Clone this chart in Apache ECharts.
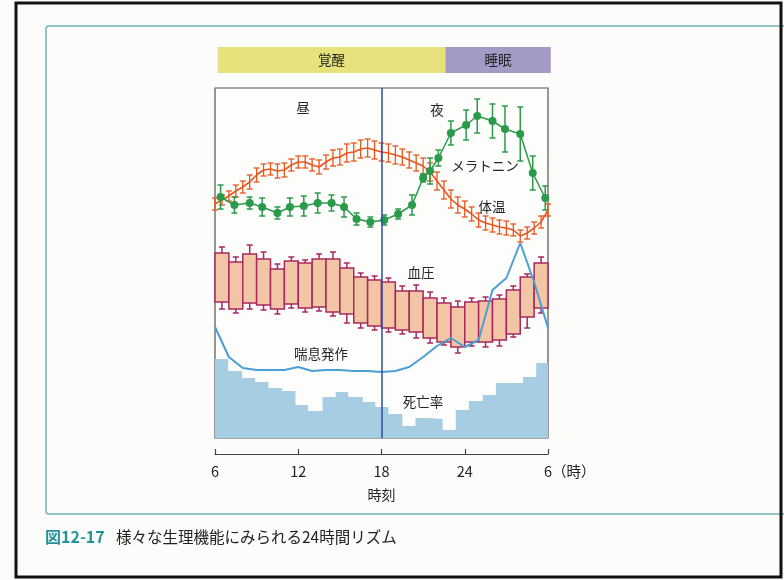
<!DOCTYPE html>
<html>
<head>
<meta charset="utf-8">
<script src="https://cdn.jsdelivr.net/npm/echarts@6/dist/echarts.min.js"></script>
<style>
  html, body { margin: 0; padding: 0; background: #fcfcfa; }
  #chart { width: 784px; height: 580px; }
</style>
</head>
<body>
<div id="chart"></div>
<script>
// 値はすべて図から読み取った相対レベル（縦軸目盛なし、0〜350）
// 体温：6時から30時(翌6時)まで30分ごと
const tempLevel = [234, 238, 242, 247, 251, 256, 263, 268, 269, 267,
                   268, 273, 276, 276, 273, 271, 276, 280, 281, 285,
                   286, 289, 290, 288, 286, 285, 283, 281, 278, 275,
                   272, 266, 257, 248, 239, 233, 229, 224, 218, 215,
                   213, 211, 210, 208, 202, 205, 210, 216, 228];
const tempErr = [6, 5, 5, 6, 6, 7, 7, 6, 6, 7,
                 7, 6, 6, 6, 6, 7, 7, 8, 8, 9,
                 9, 9, 9, 9, 9, 9, 9, 8, 8, 8,
                 8, 9, 9, 9, 9, 8, 8, 7, 7, 7,
                 7, 7, 7, 6, 6, 6, 6, 6, 6];

// メラトニン
const melHours = [6.4, 7.4, 8.5, 9.4, 10.5, 11.4, 12.4, 13.4, 14.4, 15.3, 16.2, 17.2, 18.2,
                  19.2, 20.2, 21.0, 21.5, 22.1, 23.0, 24.1, 24.9, 26.0, 26.9, 28.0, 28.9, 29.8];
const melLevel = [241, 233, 235, 231, 225, 231, 232, 235, 235, 231, 219, 216, 218,
                  224, 233, 260, 267, 280, 305, 313, 322, 317, 309, 304, 265, 240];
const melErr = [12, 8, 6, 9, 6, 9, 10, 10, 8, 10, 6, 5, 5,
                5, 10, 4, 13, 8, 12, 15, 17, 17, 23, 27, 17, 12];

// 血圧（1時間ごとの箱：収縮期/拡張期とそのばらつき）
const bpHours = [6, 7, 8, 9, 10, 11, 12, 13, 14, 15, 16, 17, 18, 19, 20, 21, 22, 23, 24, 25, 26, 27, 28, 29];
const bpSys   = [185, 176, 184, 179, 169, 177, 175, 179, 179, 170, 161, 158, 156, 147, 147, 140, 135, 131, 136, 137, 139, 148, 161, 175];
const bpDia   = [136, 129, 135, 133, 129, 134, 130, 131, 126, 124, 115, 112, 110, 108, 106, 100, 96, 91, 96, 96, 98, 104, 121, 130];
const bpSysHi = [191, 181, 193, 186, 174, 181, 178, 184, 186, 175, 165, 162, 160, 152, 153, 146, 140, 137, 140, 141, 143, 152, 164, 181];
const bpDiaLo = [129, 125, 129, 128, 124, 130, 126, 127, 122, 115, 110, 108, 106, 104, 100, 95, 93, 85, 92, 91, 92, 101, 110, 125];

// 喘息発作
const asthmaHours = [6, 7, 8, 9, 10, 11, 12, 13, 14, 15, 16, 17, 18, 19, 20, 21, 22, 23, 24, 25, 26, 27, 28, 29, 30];
const asthmaLevel = [111, 81, 70, 68, 68, 68, 71, 67, 68, 68, 67, 67, 66, 67, 71, 81, 92, 100, 91, 98, 148, 160, 195, 156, 110];

// 死亡率（階段状）
const mortEdges = [6.0, 6.95, 7.95, 8.9, 9.85, 10.85, 11.8, 12.7, 13.75, 14.7, 15.6, 16.65, 17.55,
                   18.5, 19.5, 20.45, 21.4, 22.4, 23.35, 24.3, 25.3, 26.25, 27.2, 28.2, 29.15, 30.0];
const mortLevel = [79, 67, 60, 56, 50, 47, 33, 27, 41, 46, 41, 36, 31,
                   24, 12, 20, 19, 8, 28, 37, 43, 55, 55, 61, 75];

// 覚醒・睡眠の帯
const stateNames = ['覚醒', '睡眠'];
const stateStart = [6.2, 22.6];
const stateEnd = [22.6, 30.2];

const FONT = '"Noto Sans CJK JP", "Noto Sans", sans-serif';
const ORANGE = '#e8561e';
const GREEN = '#2b9a4a';
const MAGENTA = '#a8285f';

let myChart = echarts.init(document.getElementById('chart'));

// エラーバー描画
function errorBar(color, capW, lw) {
    return function (params, api) {
        let x = api.value(0);
        let p1 = api.coord([x, api.value(1)]);
        let p2 = api.coord([x, api.value(2)]);
        let st = { stroke: color, lineWidth: lw };
        return {
            type: 'group',
            children: [
                { type: 'line', shape: { x1: p1[0], y1: p1[1], x2: p2[0], y2: p2[1] }, style: st },
                { type: 'line', shape: { x1: p1[0] - capW, y1: p1[1], x2: p1[0] + capW, y2: p1[1] }, style: st },
                { type: 'line', shape: { x1: p2[0] - capW, y1: p2[1], x2: p2[0] + capW, y2: p2[1] }, style: st }
            ]
        };
    };
}

let tempLine = [], tempBars = [];
tempLevel.forEach((v, i) => {
    let h = 6 + i / 2;
    tempLine.push([h, v]);
    tempBars.push([h, v - tempErr[i], v + tempErr[i]]);
});
let melLine = melHours.map((h, i) => [h, melLevel[i]]);
let melBars = melHours.map((h, i) => [h, melLevel[i] - melErr[i], melLevel[i] + melErr[i]]);
let bpData = bpHours.map((h, i) => [h, h + 1, bpDia[i], bpSys[i], bpDiaLo[i], bpSysHi[i]]);
let asthmaData = asthmaHours.map((h, i) => [h, asthmaLevel[i]]);
let mortData = mortLevel.map((v, i) => [mortEdges[i], v]);
mortData.push([mortEdges[mortEdges.length - 1], mortLevel[mortLevel.length - 1]]);
let stateData = stateNames.map((n, i) => [stateStart[i], stateEnd[i], i]);

let labelStyle = (txt, x, y, size) => ({
    type: 'text', x: x, y: y, z: 100,
    style: { text: txt, font: (size || 13.5) + 'px ' + FONT, fill: '#262626', align: 'center', verticalAlign: 'middle' }
});

let option = {
    backgroundColor: '#fcfcfa',
    animation: false,
    textStyle: { fontFamily: FONT },
    grid: [
        { left: 215, right: 236, top: 88, bottom: 142, show: true, borderColor: '#555', borderWidth: 1.2, backgroundColor: '#fdfdfc' },
        { left: 215, right: 236, top: 47, height: 26 }
    ],
    xAxis: [
        {
            gridIndex: 0, type: 'value', min: 6, max: 30, interval: 6, offset: 16, position: 'bottom',
            name: '時刻', nameLocation: 'middle', nameGap: 34,
            nameTextStyle: { fontSize: 14, color: '#222', fontFamily: FONT },
            axisLine: { show: true, onZero: false, lineStyle: { color: '#444', width: 1.2 } },
            axisTick: { show: true, inside: true, length: 5, lineStyle: { color: '#444', width: 1.2 } },
            axisLabel: { fontSize: 14.5, color: '#222', margin: 10, fontFamily: FONT,
                formatter: v => String(v > 24 ? v - 24 : v) },
            splitLine: { show: false }
        },
        { gridIndex: 1, type: 'value', min: 6, max: 30, show: false }
    ],
    yAxis: [
        { gridIndex: 0, type: 'value', min: 0, max: 350, show: false },
        { gridIndex: 1, type: 'value', min: 0, max: 1, show: false }
    ],
    graphic: [
        { type: 'rect', shape: { x: 46, y: 26, width: 760, height: 488, r: 3 }, style: { fill: 'none', stroke: '#6fb2b8', lineWidth: 1.5 }, z: -1 },
        { type: 'rect', shape: { x: 16, y: 3, width: 765, height: 574 }, style: { fill: 'none', stroke: '#111', lineWidth: 3 }, z: 100 },
        labelStyle('昼', 303, 108),
        labelStyle('夜', 437, 110),
        labelStyle('メラトニン', 485, 166),
        labelStyle('体温', 492, 207),
        labelStyle('血圧', 421, 273),
        labelStyle('喘息発作', 321, 354),
        labelStyle('死亡率', 423, 402),
        { type: 'text', x: 552, y: 471, style: { text: '（時）', font: '14.5px ' + FONT, fill: '#222', align: 'left', verticalAlign: 'middle' } },
        { type: 'text', x: 45, y: 537, style: { text: '図12-17', font: 'bold 16px ' + FONT, fill: '#23939a', align: 'left', verticalAlign: 'middle' } },
        { type: 'text', x: 116, y: 537, style: { text: '様々な生理機能にみられる24時間リズム', font: '15.5px ' + FONT, fill: '#222', align: 'left', verticalAlign: 'middle' } }
    ],
    series: [
        {   // 覚醒・睡眠
            type: 'custom', xAxisIndex: 1, yAxisIndex: 1, clip: false, silent: true,
            data: stateData,
            renderItem: function (params, api) {
                let a = api.coord([api.value(0), 1]);
                let b = api.coord([api.value(1), 0]);
                let idx = api.value(2);
                return {
                    type: 'rect',
                    shape: { x: a[0], y: a[1], width: b[0] - a[0], height: b[1] - a[1] },
                    style: { fill: idx === 0 ? '#e8e27d' : '#a49ac6' },
                    textContent: { style: { text: stateNames[idx], font: '13.5px ' + FONT, fill: '#222' } },
                    textConfig: { position: 'inside' }
                };
            }
        },
        {   // 死亡率
            type: 'line', step: 'end', data: mortData, symbol: 'none',
            lineStyle: { width: 0, color: '#a6cde2' },
            areaStyle: { color: '#a6cde2', opacity: 1 }
        },
        {   // 血圧
            type: 'custom', data: bpData,
            renderItem: function (params, api) {
                let tl = api.coord([api.value(0), api.value(3)]);
                let br = api.coord([api.value(1), api.value(2)]);
                let cx = (tl[0] + br[0]) / 2;
                let hi = api.coord([api.value(0), api.value(5)])[1];
                let lo = api.coord([api.value(0), api.value(4)])[1];
                let st = { stroke: MAGENTA, lineWidth: 1.5 };
                return {
                    type: 'group',
                    children: [
                        { type: 'line', shape: { x1: cx, y1: tl[1], x2: cx, y2: hi }, style: st },
                        { type: 'line', shape: { x1: cx - 3, y1: hi, x2: cx + 3, y2: hi }, style: st },
                        { type: 'line', shape: { x1: cx, y1: br[1], x2: cx, y2: lo }, style: st },
                        { type: 'line', shape: { x1: cx - 3, y1: lo, x2: cx + 3, y2: lo }, style: st },
                        { type: 'rect', shape: { x: tl[0], y: tl[1], width: br[0] - tl[0], height: br[1] - tl[1] },
                          style: { fill: '#f2c5a4', stroke: MAGENTA, lineWidth: 1.5 } }
                    ]
                };
            }
        },
        {   // 喘息発作
            type: 'line', data: asthmaData, symbol: 'none',
            lineStyle: { color: '#4a9fd4', width: 2 }
        },
        {   // 体温エラーバー
            type: 'custom', data: tempBars, renderItem: errorBar(ORANGE, 3, 1.3)
        },
        {   // 体温
            type: 'line', data: tempLine, symbol: 'none',
            lineStyle: { color: ORANGE, width: 1.6 }
        },
        {   // メラトニン エラーバー
            type: 'custom', data: melBars, renderItem: errorBar(GREEN, 3, 1.5)
        },
        {   // メラトニン
            type: 'line', data: melLine, symbol: 'circle', symbolSize: 8,
            itemStyle: { color: GREEN }, lineStyle: { color: GREEN, width: 1.5 },
            markLine: {
                silent: true, symbol: 'none', label: { show: false },
                lineStyle: { color: '#2c4c9c', width: 1.5, type: 'solid' },
                data: [{ xAxis: 18 }]
            }
        }
    ]
};
myChart.setOption(option);
</script>
</body>
</html>
